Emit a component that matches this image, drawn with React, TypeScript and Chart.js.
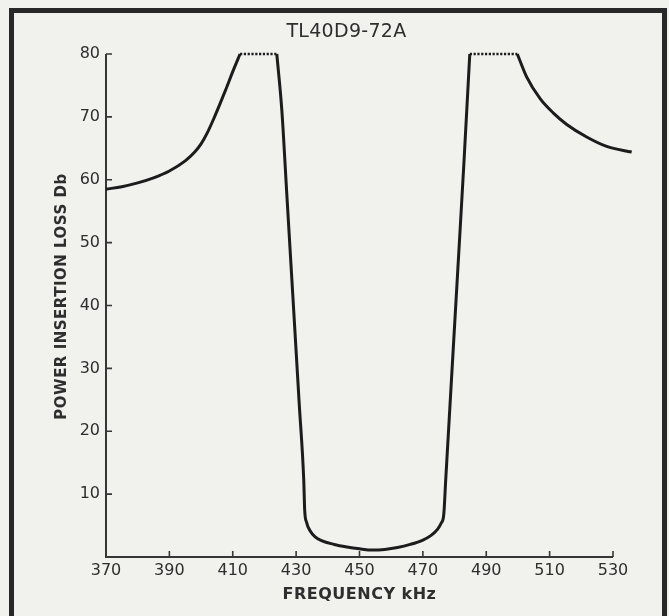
import React, { useEffect, useRef } from "react";
import { Chart, registerables } from "chart.js";

Chart.register(...registerables);

// ---- text ----
const chartTitle = "TL40D9-72A";
const xAxisTitle = "FREQUENCY kHz";
const yAxisTitle = "POWER INSERTION LOSS Db";

// ---- axes ----
const xTickValues = [370, 390, 410, 430, 450, 470, 490, 510, 530];
const yTickValues = [10, 20, 30, 40, 50, 60, 70, 80];
const xMin = 370;
const xMax = 530;
const yMin = 0;
const yMax = 80;

// ---- curve (frequency kHz / loss dB) ----
const lowSkirtFreq = [370, 375, 380, 385, 390, 395, 398, 400, 402, 404, 406, 408, 410, 412.3];
const lowSkirtLoss = [58.5, 58.9, 59.5, 60.3, 61.4, 63.0, 64.4, 65.7, 67.5, 69.7, 72.1, 74.6, 77.2, 80];

const lowPlateauFreq = [412.3, 423.9];
const lowPlateauLoss = [80, 80];

const passbandFreq = [
  423.9, 425.5, 427, 429, 431, 432.4, 432.7, 433.3, 434.5, 436, 438, 442, 446, 450, 454,
  458, 462, 466, 470, 472.5, 474.6, 475.8, 476.6, 477.2, 479, 481, 483, 484.8,
];
const passbandLoss = [
  80, 71, 58.2, 41.2, 24.2, 12.3, 7.5, 5.5, 4.1, 3.2, 2.6, 2.0, 1.6, 1.3, 1.1,
  1.2, 1.5, 2.0, 2.7, 3.4, 4.4, 5.4, 6.8, 12.2, 28, 45.5, 63.1, 80,
];

const highPlateauFreq = [484.8, 499.8];
const highPlateauLoss = [80, 80];

const highSkirtFreq = [499.8, 502.7, 507.0, 511.2, 515.4, 521.7, 528.0, 535.9];
const highSkirtLoss = [80, 76.4, 72.9, 70.6, 68.8, 66.8, 65.3, 64.4];

// ---- style ----
const PAPER = "#f1f1ee";
const INK = "#1c1c1c";
const AXIS_INK = "#363636";
const TEXT_INK = "#2e2e2e";

const toPoints = (xs: number[], ys: number[]) => xs.map((x, i) => ({ x, y: ys[i] }));

const solid = (label: string, xs: number[], ys: number[]) => ({
  label,
  data: toPoints(xs, ys),
  borderColor: INK,
  borderWidth: 3,
  pointRadius: 0,
  cubicInterpolationMode: "monotone" as const,
  clip: false as const,
  borderJoinStyle: "round" as const,
});

const dotted = (label: string, xs: number[], ys: number[]) => ({
  label,
  data: toPoints(xs, ys),
  borderColor: INK,
  borderWidth: 2.6,
  borderDash: [2.2, 1.6],
  pointRadius: 0,
  clip: false as const,
});

const axesPlugin = {
  id: "paperAxes",
  beforeDatasetsDraw(chart: any) {
    const { ctx, chartArea } = chart;
    const xs = chart.scales.x;
    const ys = chart.scales.y;
    const left = chartArea.left;
    const bottom = chartArea.bottom;
    ctx.save();
    ctx.strokeStyle = AXIS_INK;
    ctx.lineWidth = 2;
    ctx.beginPath();
    ctx.moveTo(left, ys.getPixelForValue(yMax));
    ctx.lineTo(left, bottom);
    ctx.lineTo(xs.getPixelForValue(xMax), bottom);
    ctx.stroke();
    ctx.lineWidth = 1.6;
    ctx.beginPath();
    yTickValues.forEach((v) => {
      const y = ys.getPixelForValue(v);
      ctx.moveTo(left, y);
      ctx.lineTo(left + 6, y);
    });
    xTickValues.slice(1).forEach((v) => {
      const x = xs.getPixelForValue(v);
      ctx.moveTo(x, bottom);
      ctx.lineTo(x, bottom - 6);
    });
    ctx.stroke();
    ctx.restore();
  },
  afterDraw(chart: any) {
    const { ctx, chartArea } = chart;
    const cx = (chartArea.left + chartArea.right) / 2;
    const cy = (chartArea.top + chartArea.bottom) / 2;
    ctx.save();
    ctx.fillStyle = TEXT_INK;
    ctx.textAlign = "center";
    ctx.textBaseline = "middle";
    // chart title
    ctx.font = "19px 'DejaVu Sans'";
    (ctx as any).letterSpacing = "0.3px";
    ctx.fillText(chartTitle, cx - 13, chartArea.top - 22);
    // x axis title
    (ctx as any).letterSpacing = "0.5px";
    ctx.font = "bold 16px 'DejaVu Sans'";
    ctx.fillText(xAxisTitle, cx, chartArea.bottom + 38);
    // y axis title
    ctx.translate(chartArea.left - 44, cy - 9);
    ctx.rotate(-Math.PI / 2);
    ctx.font = "bold 15px 'DejaVu Sans'";
    ctx.fillText(yAxisTitle, 0, 0);
    ctx.restore();
  },
};

export default function App() {
  const canvasRef = useRef<HTMLCanvasElement | null>(null);

  useEffect(() => {
    if (!canvasRef.current) return;
    const chart = new Chart(canvasRef.current, {
      type: "line",
      data: {
        datasets: [
          solid("low skirt", lowSkirtFreq, lowSkirtLoss),
          dotted("low plateau", lowPlateauFreq, lowPlateauLoss),
          solid("passband", passbandFreq, passbandLoss),
          dotted("high plateau", highPlateauFreq, highPlateauLoss),
          solid("high skirt", highSkirtFreq, highSkirtLoss),
        ] as any,
      },
      options: {
        animation: false,
        responsive: false,
        maintainAspectRatio: false,
        layout: { padding: { top: 54, right: 56, left: 0, bottom: 0 } },
        plugins: {
          legend: { display: false },
          title: { display: false },
          tooltip: { enabled: false },
        },
        scales: {
          x: {
            type: "linear",
            min: xMin,
            max: xMax,
            grid: { display: false, drawTicks: false },
            border: { display: false },
            afterBuildTicks: (s: any) => {
              s.ticks = xTickValues.map((value) => ({ value }));
            },
            afterFit: (s: any) => {
              s.height = 59;
            },
            ticks: {
              color: TEXT_INK,
              padding: 4,
              maxRotation: 0,
              autoSkip: false,
              font: { family: "'DejaVu Sans'", size: 16 },
            },
          },
          y: {
            type: "linear",
            min: yMin,
            max: yMax,
            grid: { display: false, drawTicks: false },
            border: { display: false },
            afterBuildTicks: (s: any) => {
              s.ticks = yTickValues.map((value) => ({ value }));
            },
            afterFit: (s: any) => {
              s.width = 106;
            },
            ticks: {
              color: TEXT_INK,
              padding: 6,
              autoSkip: false,
              font: { family: "'DejaVu Sans'", size: 16 },
            },
          },
        },
      },
      plugins: [axesPlugin],
    });
    return () => chart.destroy();
  }, []);

  return (
    <div
      style={{
        position: "absolute",
        left: 0,
        top: 0,
        width: 669,
        height: 616,
        background: PAPER,
        overflow: "hidden",
      }}
    >
      <canvas ref={canvasRef} width={669} height={616} style={{ display: "block" }} />
      <div
        style={{
          position: "absolute",
          left: 9,
          top: 8,
          width: 658,
          height: 614,
          boxSizing: "border-box",
          border: "5px solid #282828",
          pointerEvents: "none",
        }}
      />
    </div>
  );
}
